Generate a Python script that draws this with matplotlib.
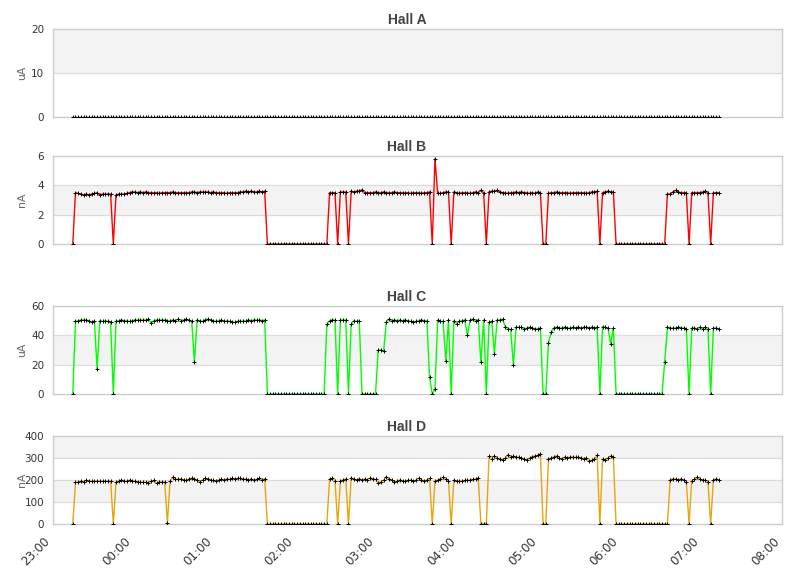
import pandas as pd
import matplotlib
matplotlib.use("Agg")
import matplotlib.pyplot as plt

# --- dati: un campione ogni 2 minuti, dalle 23:15 alle 07:13 ---
times = pd.date_range("2014-03-10 23:15", periods=240, freq="2min")
x_start = pd.Timestamp("2014-03-10 23:00")
x_end = pd.Timestamp("2014-03-11 08:00")
hour_ticks = pd.date_range(x_start, x_end, freq="1h")
hour_labels = ["23:00", "00:00", "01:00", "02:00", "03:00",
               "04:00", "05:00", "06:00", "07:00", "08:00"]

hall_a = [
    0, 0, 0, 0, 0, 0, 0, 0, 0, 0, 0, 0, 0, 0, 0, 0, 0, 0, 0, 0, 0, 0, 0, 0, 0, 0, 0, 0, 0, 0,
    0, 0, 0, 0, 0, 0, 0, 0, 0, 0, 0, 0, 0, 0, 0, 0, 0, 0, 0, 0, 0, 0, 0, 0, 0, 0, 0, 0, 0, 0,
    0, 0, 0, 0, 0, 0, 0, 0, 0, 0, 0, 0, 0, 0, 0, 0, 0, 0, 0, 0, 0, 0, 0, 0, 0, 0, 0, 0, 0, 0,
    0, 0, 0, 0, 0, 0, 0, 0, 0, 0, 0, 0, 0, 0, 0, 0, 0, 0, 0, 0, 0, 0, 0, 0, 0, 0, 0, 0, 0, 0,
    0, 0, 0, 0, 0, 0, 0, 0, 0, 0, 0, 0, 0, 0, 0, 0, 0, 0, 0, 0, 0, 0, 0, 0, 0, 0, 0, 0, 0, 0,
    0, 0, 0, 0, 0, 0, 0, 0, 0, 0, 0, 0, 0, 0, 0, 0, 0, 0, 0, 0, 0, 0, 0, 0, 0, 0, 0, 0, 0, 0,
    0, 0, 0, 0, 0, 0, 0, 0, 0, 0, 0, 0, 0, 0, 0, 0, 0, 0, 0, 0, 0, 0, 0, 0, 0, 0, 0, 0, 0, 0,
    0, 0, 0, 0, 0, 0, 0, 0, 0, 0, 0, 0, 0, 0, 0, 0, 0, 0, 0, 0, 0, 0, 0, 0, 0, 0, 0, 0, 0, 0,
]

hall_b = [
    0,
    3.5, 3.45, 3.4, 3.35, 3.4, 3.35, 3.4, 3.45, 3.5, 3.35, 3.4, 3.4, 3.4, 3.4,
    0,
    3.35, 3.4, 3.4, 3.4, 3.45, 3.5, 3.55, 3.55, 3.5, 3.55,
    3.5, 3.55, 3.5, 3.5, 3.5, 3.5, 3.45, 3.5, 3.5, 3.5,
    3.5, 3.55, 3.5, 3.5, 3.5, 3.5, 3.5, 3.5, 3.55, 3.55,
    3.5, 3.55, 3.55, 3.55, 3.55, 3.5, 3.55, 3.5, 3.5, 3.5,
    3.5, 3.45, 3.5, 3.5, 3.5, 3.5, 3.55, 3.55, 3.6, 3.55,
    3.6, 3.55, 3.55, 3.6, 3.55, 3.6,
    0, 0, 0, 0, 0, 0, 0, 0, 0, 0, 0, 0, 0, 0, 0, 0, 0, 0, 0, 0, 0, 0, 0,
    3.5, 3.5, 3.5, 0, 3.55, 3.55, 3.55, 0,
    3.6, 3.55, 3.6, 3.6, 3.7, 3.5, 3.5, 3.5, 3.5, 3.55,
    3.5, 3.5, 3.55, 3.5, 3.5, 3.5, 3.55, 3.5, 3.5, 3.5,
    3.5, 3.5, 3.45, 3.5, 3.5, 3.5, 3.45, 3.5, 3.5, 3.55,
    0, 5.8, 3.45, 3.45, 3.5, 3.55, 3.55, 0,
    3.55, 3.5, 3.45, 3.5, 3.5, 3.5, 3.45, 3.5, 3.55, 3.5, 3.65, 3.5,
    0,
    3.55, 3.6, 3.6, 3.65, 3.55, 3.5, 3.5, 3.45, 3.5, 3.5,
    3.55, 3.5, 3.55, 3.5, 3.5, 3.45, 3.5, 3.45, 3.55, 3.5,
    0, 0,
    3.45, 3.5, 3.5, 3.55, 3.5, 3.5, 3.5, 3.5, 3.45, 3.5,
    3.5, 3.5, 3.5, 3.5, 3.45, 3.5, 3.55, 3.55, 3.6,
    0,
    3.5, 3.55, 3.6, 3.55, 3.55,
    0, 0, 0, 0, 0, 0, 0, 0, 0, 0, 0, 0, 0, 0, 0, 0, 0, 0, 0,
    3.4, 3.4, 3.55, 3.65, 3.55, 3.5, 3.5, 3.5,
    0,
    3.5, 3.5, 3.5, 3.5, 3.55, 3.6, 3.5,
    0,
    3.5, 3.5, 3.5,
]

hall_c = [
    0,
    49.5, 50, 50.5, 50.5, 50.5, 50, 49, 50, 17, 50, 49.5, 50, 49.5, 49,
    0,
    49.5, 50, 50.5, 50, 50, 49.5, 50, 50.5, 50.5, 50.5,
    50.5, 50.5, 51, 48.5, 50, 50.5, 50.5, 50.5, 50.5, 50,
    50, 50.5, 50, 51, 50, 50.5, 51, 50.5, 49.5,
    22,
    50.5, 50, 49.5, 50.5, 51, 50.5, 50, 49.5, 50, 50.5,
    49.5, 50, 49.5, 49, 49, 49.5, 50, 49.5, 50, 50.5,
    50, 50.5, 50.5, 50.5, 50, 50.5,
    0, 0, 0, 0, 0, 0, 0, 0, 0, 0, 0, 0, 0, 0, 0, 0, 0, 0, 0, 0, 0, 0,
    47.5, 50, 50.5, 50.5, 0, 50.5, 50.5, 50.5, 0,
    47.5, 50, 49.5, 50,
    0, 0, 0, 0, 0, 0,
    30, 30, 29, 49, 51,
    50, 50.5, 50, 50.5, 50, 50.5, 50, 49.5, 49, 49.5, 50, 50.5, 50, 50,
    11.5, 0, 3.5, 50.5, 49.5, 49.5, 22.5, 50.5, 0,
    50, 48, 49.5, 50, 50.5, 40, 50.5, 51, 50, 50.5, 21.5, 50.5, 0,
    49, 49.5, 27.5, 50.5, 50.5, 51, 46, 44.5, 44, 20,
    45.5, 45.5, 45.5, 44, 45, 45.5, 45, 44.5, 44.5, 45,
    0, 0,
    35, 42,
    45, 45.5, 45, 45, 45.5, 45, 45, 45.5, 45, 45.5,
    45, 45.5, 45.5, 45, 45.5, 45, 45.5,
    0,
    46, 45.5, 45, 34, 45,
    0, 0, 0, 0, 0, 0, 0, 0, 0, 0, 0, 0, 0, 0, 0, 0, 0, 0,
    22,
    45.5, 45, 45, 45, 45.5, 45, 45, 44.5,
    0,
    45, 45, 44.5, 45.5, 44.5, 45.5, 44,
    0,
    45, 45, 44.5,
]

hall_d = [
    0,
    189, 190, 195, 192, 198, 195, 195, 195, 195, 195, 195, 195, 195, 195,
    0,
    190, 195, 200, 197, 195, 200, 197, 195, 192, 190,
    190, 190, 188, 195, 198, 185, 190, 192, 192,
    5, 195,
    212, 205, 203, 206, 200, 198, 205, 208, 205, 200,
    192, 200, 207, 205, 200, 198, 197, 200, 203, 200,
    205, 203, 207, 205, 207, 207, 203, 205, 200, 205,
    198, 203, 207, 200, 205,
    0, 0, 0, 0, 0, 0, 0, 0, 0, 0, 0, 0, 0, 0, 0, 0, 0, 0, 0, 0, 0, 0, 0,
    205, 207, 197, 0, 197, 200, 205, 0,
    210, 203, 200, 205, 200, 205, 200, 210, 205, 203,
    185, 192, 200, 215, 205, 200, 190, 195, 200,
    197, 195, 198, 200, 195, 200, 208, 200, 197, 200, 207,
    0,
    195, 200, 205, 212, 205, 195,
    0,
    200, 195, 197, 195, 198, 200, 200, 203, 205, 210,
    0, 0, 0,
    307, 297, 310, 300, 295, 292, 298, 315, 305, 308,
    305, 303, 300, 295, 292, 300, 305, 310, 312, 320,
    0, 0,
    295, 300, 305, 310, 300, 295, 305, 300, 305, 305,
    303, 305, 300, 297, 300, 285, 290, 295, 312,
    0,
    295, 290, 300, 310, 305,
    0, 0, 0, 0, 0, 0, 0, 0, 0, 0, 0, 0, 0, 0, 0, 0, 0, 0, 0, 0,
    200, 205, 205, 200, 205, 200, 190,
    0,
    197, 203, 212, 205, 200, 200, 190,
    0,
    200, 205, 200,
]

titles = ["Hall A", "Hall B", "Hall C", "Hall D"]
units = ["uA", "nA", "uA", "nA"]
y_ticks = [[0, 10, 20], [0, 2, 4, 6], [0, 20, 40, 60], [0, 100, 200, 300, 400]]
series = [hall_a, hall_b, hall_c, hall_d]
colors = ["#3355cc", "#ff0000", "#00ff00", "#e6a50e"]

# posizione dei pannelli in pixel (alto, basso)
W, H = 811, 578
rows = [(29, 117), (156, 244), (306, 394), (436, 524)]
left_px, width_px = 52.5, 729.8

fig = plt.figure(figsize=(W / 100, H / 100), dpi=100)
fig.patch.set_facecolor("white")

for k, (top, bottom) in enumerate(rows):
    ax = fig.add_axes([left_px / W, 1 - bottom / H, width_px / W, (bottom - top) / H])
    ticks = y_ticks[k]
    values = series[k]
    assert len(values) == len(times)

    # bande alternate e griglia orizzontale
    for j in range(len(ticks) - 1):
        if j % 2 == 1:
            ax.axhspan(ticks[j], ticks[j + 1], color="#f3f3f3", lw=0, zorder=0)
    for t in ticks[1:-1]:
        ax.axhline(t, color="#dcdcdc", lw=0.9, zorder=1)

    ax.plot(times, values, color=colors[k], lw=1.0, zorder=2)
    ax.plot(times, values, linestyle="none", marker="+", ms=2.6, mew=0.7,
            color="black", zorder=4)

    ax.set_xlim(x_start, x_end)
    ax.set_ylim(ticks[0], ticks[-1])
    ax.set_yticks(ticks)
    ax.set_xticks(hour_ticks)
    for sp in ax.spines.values():
        sp.set_color("#cccccc")
        sp.set_linewidth(1.0)
        sp.set_zorder(3)
    ax.tick_params(length=0, labelsize=7.5, pad=6, labelcolor="#333333")

    if k == 3:
        ax.set_xticklabels(hour_labels, rotation=45, ha="right", fontsize=8.6)
        ax.tick_params(axis="x", pad=8)
    else:
        ax.set_xticklabels([])

    ax.set_ylabel(units[k], fontsize=7.8, color="#666666")
    ax.yaxis.set_label_coords(-0.035, 0.5)

    fig.text(407 / W, 1 - (top - 5) / H, titles[k], ha="center", va="baseline",
             fontsize=10, fontweight="bold", color="#444444",
             family="Liberation Sans")

fig.savefig("out.png", dpi=100)
